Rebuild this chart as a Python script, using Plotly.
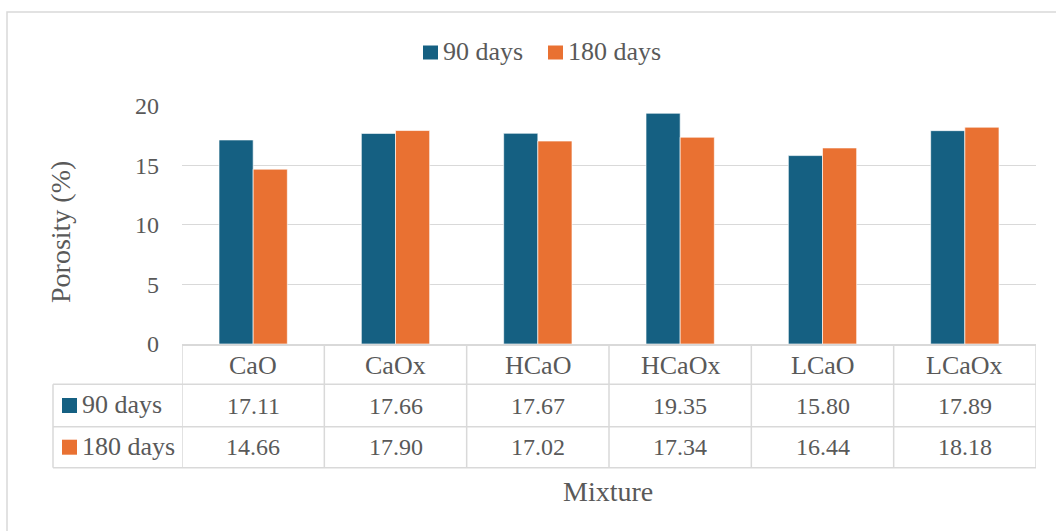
import plotly.graph_objects as go

# Porosity (%) of each mixture after two curing ages
categories = ["CaO", "CaOx", "HCaO", "HCaOx", "LCaO", "LCaOx"]
days_90 = [17.11, 17.66, 17.67, 19.35, 15.80, 17.89]
days_180 = [14.66, 17.90, 17.02, 17.34, 16.44, 18.18]
series_names = ["90 days", "180 days"]
series_values = [days_90, days_180]
colors = ["#156082", "#E97132"]

W, H = 1056, 531
FONT = "Liberation Serif"
TEXT = "#595959"
LINE = "#d9d9d9"


def px(x):
    return x / W


def py(y):
    return 1 - y / H


# plot-area edges (pixels)
PL, PR, PT, PB = 182, 1036, 105.5, 344
# data-table geometry (pixels)
ROW_Y = [344, 384.3, 426.7, 467.7]
LEFT_COL = 53

num_font = dict(family=FONT, size=24, color=TEXT)
word_font = dict(family=FONT, size=26, color=TEXT)
title_font = dict(family=FONT, size=28, color=TEXT)

fig = go.Figure()
for name, vals, col in zip(series_names, series_values, colors):
    fig.add_trace(go.Bar(
        x=categories, y=vals, name=name, showlegend=False,
        marker=dict(color=col, line=dict(color="rgba(255,255,255,0.8)", width=0.8)),
    ))

shapes = []
annotations = []

# outer chart border
shapes.append(dict(type="rect", xref="paper", yref="paper",
                   x0=px(7), x1=px(1070), y0=py(545), y1=py(12),
                   line=dict(color=LINE, width=1.5)))
# table horizontal rules (below the category row)
for y in ROW_Y[1:]:
    shapes.append(dict(type="line", xref="x domain", yref="paper",
                       x0=-(PL - LEFT_COL) / (PR - PL), x1=1, y0=py(y), y1=py(y),
                       line=dict(color=LINE, width=1.5)))
# table vertical rules at category boundaries
for i in range(len(categories) + 1):
    shapes.append(dict(type="line", xref="x", yref="paper",
                       x0=i - 0.5, x1=i - 0.5, y0=py(ROW_Y[0]), y1=py(ROW_Y[-1]),
                       line=dict(color=LINE, width=1.5)))
# left edge of the series-name column
shapes.append(dict(type="line", xref="paper", yref="paper",
                   x0=px(LEFT_COL), x1=px(LEFT_COL), y0=py(ROW_Y[1]), y1=py(ROW_Y[-1]),
                   line=dict(color=LINE, width=1.5)))

# legend along the top
LEG_Y = 52.5
for name, col, sx in zip(series_names, colors, [423, 548]):
    shapes.append(dict(type="rect", xref="paper", yref="paper",
                       x0=px(sx), x1=px(sx + 15), y0=py(LEG_Y + 7), y1=py(LEG_Y - 7),
                       fillcolor=col, line=dict(width=0)))
    annotations.append(dict(x=px(sx + 18), y=py(LEG_Y - 1), xref="paper", yref="paper",
                            text=name, showarrow=False, font=word_font,
                            xanchor="left", yanchor="middle"))

# data table: category header row
cat_y = (ROW_Y[0] + ROW_Y[1]) / 2 + 1
for c in categories:
    annotations.append(dict(x=c, y=py(cat_y), xref="x", yref="paper",
                            text=c, showarrow=False, font=word_font,
                            xanchor="center", yanchor="middle"))
# data table: one row per series
for r, (name, vals, col) in enumerate(zip(series_names, series_values, colors)):
    yc = (ROW_Y[r + 1] + ROW_Y[r + 2]) / 2
    for c, v in zip(categories, vals):
        annotations.append(dict(x=c, y=py(yc), xref="x", yref="paper",
                                text=f"{v:.2f}", showarrow=False, font=num_font,
                                xanchor="center", yanchor="middle"))
    shapes.append(dict(type="rect", xref="paper", yref="paper",
                       x0=px(62), x1=px(77), y0=py(yc + 7.5), y1=py(yc - 7.5),
                       fillcolor=col, line=dict(width=0)))
    annotations.append(dict(x=px(80), y=py(yc - 1), xref="paper", yref="paper",
                            text=name, showarrow=False, font=word_font,
                            xanchor="left", yanchor="middle"))

# axis titles
annotations.append(dict(x=px(60), y=py(232), xref="paper", yref="paper",
                        text="Porosity (%)", textangle=-90, showarrow=False,
                        font=title_font, xanchor="center", yanchor="middle"))
annotations.append(dict(x=px(608), y=py(491), xref="paper", yref="paper",
                        text="Mixture", showarrow=False, font=title_font,
                        xanchor="center", yanchor="middle"))

fig.update_layout(
    width=W, height=H,
    margin=dict(l=0, r=0, t=0, b=0, autoexpand=False),
    paper_bgcolor="white", plot_bgcolor="white",
    font=dict(family=FONT, size=24, color=TEXT),
    barmode="group", bargap=0.52, bargroupgap=0,
    showlegend=False,
    xaxis=dict(domain=[px(PL), px(PR)], range=[-0.5, len(categories) - 0.5],
               showticklabels=False, ticks="", showgrid=False, automargin=False,
               showline=True, linecolor=LINE, linewidth=1.5, fixedrange=True),
    yaxis=dict(domain=[py(PB), py(PT)], range=[0, 20], dtick=5, automargin=False,
               showgrid=True, gridcolor=LINE, gridwidth=1.3, zeroline=False,
               ticks="", ticklabelstandoff=22, showline=False,
               tickfont=num_font),
    shapes=shapes,
    annotations=annotations,
)

fig.write_html("out.html")
